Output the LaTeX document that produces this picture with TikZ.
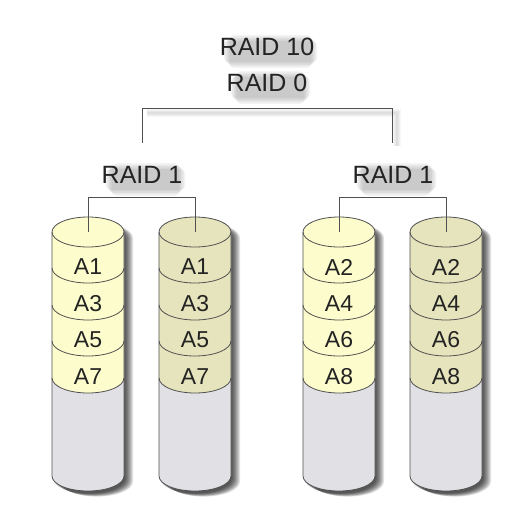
\documentclass[tikz,border=0pt]{standalone}
\usepackage{fontspec}
\setmainfont{Liberation Sans}
\pgfdeclarelayer{background}
\pgfsetlayers{background,main}
\definecolor{yelA}{RGB}{253,252,204}
\definecolor{yelB}{RGB}{230,228,188}
\definecolor{grayfill}{RGB}{225,225,229}
\definecolor{edgecol}{RGB}{80,80,80}
\definecolor{txtcol}{RGB}{35,35,35}
\tikzset{
  raidlabel/.style={font=\fontsize{25}{27}\selectfont, text=txtcol, inner sep=0pt},
  blocklabel/.style={font=\fontsize{23}{25}\selectfont, text=txtcol, inner sep=0pt},
  conn/.style={draw=edgecol, line width=0.8pt},
  cyledge/.style={draw=edgecol, line width=0.8pt}
}
% soft shadow behind a text node: #1 node name
\newcommand\softshadow[1]{%
  \foreach \g in {0,1.5,3,4.5,6}{
    \fill[black,opacity=0.045,rounded corners=5pt]
      ([xshift=4pt+\g pt,yshift=-3pt+\g pt]#1.north west) rectangle ([xshift=3pt-\g pt,yshift=-6pt-\g pt]#1.south east);
  }
}
% #1 name, #2 centre x, #3 fill colour, #4-#7 labels
\newcommand\mycyl[7]{%
  \foreach \s in {1,...,9}{
    \fill[black,opacity=0.11] (#2-36+\s,238) arc[start angle=180,end angle=0,x radius=36pt,y radius=15pt]
      -- (#2+36+\s,478+0.4*\s) arc[start angle=0,end angle=-180,x radius=36pt,y radius=15pt] -- cycle;
  }
  \fill[grayfill] (#2-36,232) arc[start angle=180,end angle=0,x radius=36pt,y radius=15pt]
      -- (#2+36,476) arc[start angle=0,end angle=-180,x radius=36pt,y radius=15pt] -- cycle;
  \fill[#3] (#2-36,232) arc[start angle=180,end angle=0,x radius=36pt,y radius=15pt]
      -- (#2+36,378) arc[start angle=0,end angle=-180,x radius=36pt,y radius=15pt] -- cycle;
  \draw[cyledge] (#2,232) ellipse[x radius=36pt,y radius=15pt];
  \foreach \c in {268,305,341,378}{
    \draw[cyledge] (#2+36,\c) arc[start angle=0,end angle=-180,x radius=36pt,y radius=15pt];
  }
  \draw[cyledge] (#2-36,232) -- (#2-36,476) arc[start angle=-180,end angle=0,x radius=36pt,y radius=15pt] -- (#2+36,232);
  \coordinate (#1) at (#2,232);
  \node[blocklabel] (#1-a) at (#2,267) {#4};
  \node[blocklabel] (#1-b) at (#2,303.5) {#5};
  \node[blocklabel] (#1-c) at (#2,340) {#6};
  \node[blocklabel] (#1-d) at (#2,376.5) {#7};
}
\begin{document}
\begin{tikzpicture}[x=1pt,y=-1pt]
  \begin{pgfonlayer}{background}
    \fill[white] (0,0) rectangle (532,508);
  \end{pgfonlayer}
  \useasboundingbox (0,0) rectangle (532,508);

  \node[raidlabel] (r10) at (267,47) {RAID 10};
  \node[raidlabel] (r0) at (267,83) {RAID 0};
  \node[raidlabel] (r1l) at (142,175) {RAID 1};
  \node[raidlabel] (r1r) at (393,175) {RAID 1};
  \begin{pgfonlayer}{background}
    \softshadow{r10}
    \softshadow{r0}
    \softshadow{r1l}
    \softshadow{r1r}
  \end{pgfonlayer}

  % cylinders
  \mycyl{d1}{88}{yelA}{A1}{A3}{A5}{A7}
  \mycyl{d2}{195}{yelB}{A1}{A3}{A5}{A7}
  \mycyl{d3}{339}{yelA}{A2}{A4}{A6}{A8}
  \mycyl{d4}{446}{yelB}{A2}{A4}{A6}{A8}

  % connectors
  \coordinate (k1) at (142,143);
  \coordinate (k2) at (392,143);
  \coordinate (hy0) at (0,108);
  \coordinate (hy1) at (0,197);
  \foreach \w in {2,4,6,8}{
    \draw[black,opacity=0.03,line width=\w pt] (147,113) -- (397,113) -- (397,146);
  }
  \draw[conn] (k1) -- (k1 |- hy0) -- (k2 |- hy0) -- (k2);
  \draw[conn] (d1) -- (d1 |- hy1) -- (d2 |- hy1) -- (d2);
  \draw[conn] (d3) -- (d3 |- hy1) -- (d4 |- hy1) -- (d4);
\end{tikzpicture}
\end{document}
